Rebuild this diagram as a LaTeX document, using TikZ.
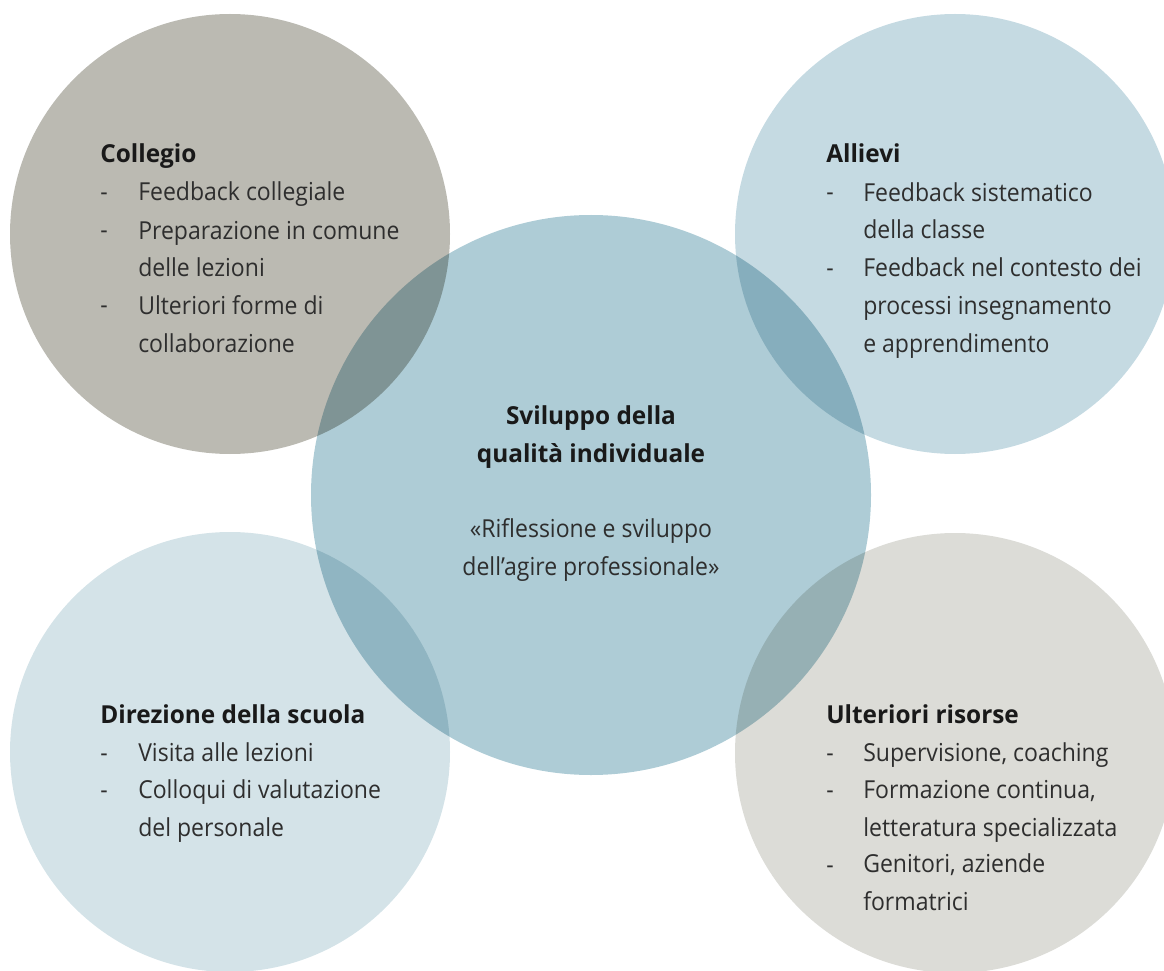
\documentclass[tikz,border=0pt]{standalone}
\usepackage{fontspec}
\setmainfont{Open Sans}[FakeStretch=0.93, BoldFeatures={FakeStretch=0.985}]
\usepackage{tikz}
\usetikzlibrary{positioning}
\definecolor{collgray}{HTML}{BBBAB2}
\definecolor{alliblue}{HTML}{C5DAE2}
\definecolor{corequal}{HTML}{AECCD6}
\definecolor{direblue}{HTML}{D4E3E8}
\definecolor{risogray}{HTML}{DCDCD7}
\definecolor{textgray}{HTML}{2E2E2E}
\newcommand{\listfont}{\fontsize{17.6}{26.8}\selectfont}

\begin{document}
\begin{tikzpicture}[x=0.025cm, y=-0.025cm, every node/.style={inner sep=0pt, text=textgray, font=\listfont},
		head/.style={anchor=base west, font=\listfont\bfseries, text=black!90},
		bullet/.style={anchor=base west},
		item/.style={anchor=base west, align=left}]
	\useasboundingbox (0,0) rectangle (1164,971);
	% circles, multiplied where they overlap
	\begin{scope}[blend group=multiply]
		\fill[collgray] (230,234) circle (220);
		\fill[alliblue] (955,234) circle (220);
		\fill[direblue] (230,752) circle (220);
		\fill[risogray] (955,753) circle (220);
		\fill[corequal] (591,495) circle (280);
	\end{scope}
	
	% Collegio (multi-line nodes sit on their last line)
	\node[head] (coll) at (100,163) {Collegio};
	\node[bullet] (coll1d) at (100,201) {-};
	\node[item] (coll1) at (138,201) {Feedback collegiale};
	\node[bullet] (coll2d) at (100,239) {-};
	\node[item] (coll2) at (138,277) {Preparazione in comune\\delle lezioni};
	\node[bullet] (coll3d) at (100,314) {-};
	\node[item] (coll3) at (138,352) {Ulteriori forme di\\collaborazione};
	
	% Allievi
	\node[head] (alli) at (826,163) {Allievi};
	\node[bullet] (alli1d) at (826,201) {-};
	\node[item] (alli1) at (863,239) {Feedback sistematico\\della classe};
	\node[bullet] (alli2d) at (826,277) {-};
	\node[item] (alli2) at (863,352) {Feedback nel contesto dei\\processi insegnamento\\e apprendimento};
	
	% centro
	\node[align=center, anchor=base, font=\listfont\bfseries, text=black!90] (core) at (591,462) {Sviluppo della\\qualità individuale};
	\node[align=center, anchor=base] (refl) at (591,575) {«Riflessione e sviluppo\\dell’agire professionale»};
	
	% Direzione della scuola
	\node[head] (dire) at (100,723) {Direzione della scuola};
	\node[bullet] (dire1d) at (100,761) {-};
	\node[item] (dire1) at (138,761) {Visita alle lezioni};
	\node[bullet] (dire2d) at (100,798) {-};
	\node[item] (dire2) at (138,836) {Colloqui di valutazione\\del personale};
	
	% Ulteriori risorse
	\node[head] (riso) at (826,723) {Ulteriori risorse};
	\node[bullet] (riso1d) at (826,761) {-};
	\node[item] (riso1) at (863,761) {Supervisione, coaching};
	\node[bullet] (riso2d) at (826,798) {-};
	\node[item] (riso2) at (863,836) {Formazione continua,\\letteratura specializzata};
	\node[bullet] (riso3d) at (826,873) {-};
	\node[item] (riso3) at (863,910) {Genitori, aziende\\formatrici};
\end{tikzpicture}
\end{document}
